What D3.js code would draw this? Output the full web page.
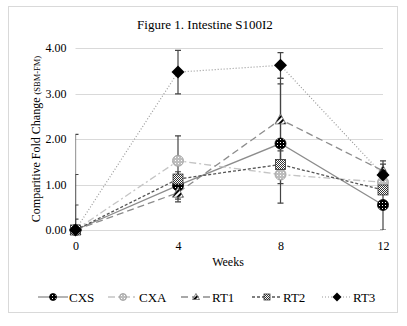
<!DOCTYPE html>
<html>
<head>
<meta charset="utf-8">
<script src="https://cdn.jsdelivr.net/npm/d3@7"></script>
<style>
  body { margin: 0; background: #fff; }
</style>
</head>
<body>
<div class="canvas"></div>
<script>
// weeks on the x axis
const weeks = [0, 4, 8, 12]
const yTicks = [0, 1, 2, 3, 4]
const seriesNames = ["CXS", "CXA", "RT1", "RT2", "RT3"]

// fold change per group, one value per week
const cxs = [0, 0.98, 1.90, 0.55]
const cxa = [0, 1.52, 1.22, 1.05]
const rt1 = [0, 0.82, 2.43, 1.30]
const rt2 = [0, 1.12, 1.44, 0.88]
const rt3 = [0, 3.47, 3.62, 1.21]

// error bar half-widths
const cxsErr = [0.24, 0.30, 1.31, 0.55]
const cxaErr = [0.55, 0.55, 0.20, 0.10]
const rt1Err = [1.22, 0.20, 0.90, 0.15]
const rt2Err = [2.10, 0.10, 0.30, 0.10]
const rt3Err = [0, 0.48, 0.28, 0.31]

const FONT = 'Liberation Serif'
const dims = { width: 407, height: 326 }
const margin = { left: 75.5, right: 24, top: 48, bottom: 96 }

const svg = d3.select('.canvas').append('svg')
  .attr('width', dims.width)
  .attr('height', dims.height)

// chart frame
svg.append('rect')
  .attr('x', 8.5).attr('y', 6.5)
  .attr('width', 389).attr('height', 306)
  .attr('fill', '#fff').attr('stroke', '#d9d9d9')

const defs = svg.append('defs')

// marker fills
const pDots = defs.append('pattern').attr('id', 'dotsDark')
  .attr('width', 3).attr('height', 3).attr('patternUnits', 'userSpaceOnUse')
pDots.append('rect').attr('width', 3).attr('height', 3).attr('fill', '#000')
pDots.append('rect').attr('x', 1).attr('y', 1).attr('width', 1).attr('height', 1).attr('fill', '#fff')

const pDotsLight = defs.append('pattern').attr('id', 'dotsLight')
  .attr('width', 3).attr('height', 3).attr('patternUnits', 'userSpaceOnUse')
pDotsLight.append('rect').attr('width', 3).attr('height', 3).attr('fill', '#bdbdbd')
pDotsLight.append('rect').attr('x', 1).attr('y', 1).attr('width', 1).attr('height', 1).attr('fill', '#fff')

const pStripe = defs.append('pattern').attr('id', 'stripes')
  .attr('width', 4).attr('height', 4).attr('patternUnits', 'userSpaceOnUse')
  .attr('patternTransform', 'rotate(45)')
pStripe.append('rect').attr('width', 4).attr('height', 4).attr('fill', '#fff')
pStripe.append('rect').attr('width', 2).attr('height', 4).attr('fill', '#000')

const pCheck = defs.append('pattern').attr('id', 'checks')
  .attr('width', 2).attr('height', 2).attr('patternUnits', 'userSpaceOnUse')
pCheck.append('rect').attr('width', 2).attr('height', 2).attr('fill', '#fff')
pCheck.append('rect').attr('width', 1).attr('height', 1).attr('fill', '#333')
pCheck.append('rect').attr('x', 1).attr('y', 1).attr('width', 1).attr('height', 1).attr('fill', '#333')

const x = d3.scaleLinear().domain([0, 12]).range([margin.left, dims.width - margin.right])
const y = d3.scaleLinear().domain([0, 4]).range([dims.height - margin.bottom, margin.top])

defs.append('clipPath').attr('id', 'plotClip').append('rect')
  .attr('x', x(0)).attr('y', y(4) - 10)
  .attr('width', x(12) - x(0) + 10).attr('height', y(0) - y(4) + 10)

// title
svg.append('text')
  .attr('x', 205).attr('y', 29)
  .attr('text-anchor', 'middle')
  .attr('font-family', FONT)
  .attr('font-size', 13)
  .attr('fill', '#000')
  .text('Figure 1. Intestine S100I2')

// gridlines
svg.append('g').selectAll('line').data(yTicks).enter().append('line')
  .attr('x1', x(0)).attr('x2', x(12))
  .attr('y1', d => Math.round(y(d)) + 0.5).attr('y2', d => Math.round(y(d)) + 0.5)
  .attr('stroke', '#d9d9d9').attr('stroke-width', 1)

// axes, labels only
const yAxis = svg.append('g')
  .attr('transform', `translate(${x(0) - 6},0)`)
  .call(d3.axisLeft(y).tickValues(yTicks).tickFormat(d3.format('.2f')).tickSize(0))
yAxis.attr('font-family', FONT).attr('font-size', 12)
yAxis.select('.domain').remove()
yAxis.selectAll('text').attr('fill', '#000')

const xAxis = svg.append('g')
  .attr('transform', `translate(0,${y(0) + 8})`)
  .call(d3.axisBottom(x).tickValues(weeks).tickSize(0))
xAxis.attr('font-family', FONT).attr('font-size', 12)
xAxis.select('.domain').remove()
xAxis.selectAll('text').attr('fill', '#000')

svg.append('text')
  .attr('x', 228).attr('y', 266)
  .attr('text-anchor', 'middle')
  .attr('font-family', FONT)
  .attr('font-size', 12)
  .attr('fill', '#000')
  .text('Weeks')

const yLabel = svg.append('text')
  .attr('transform', `translate(40,${(y(0) + y(4)) / 2}) rotate(-90)`)
  .attr('text-anchor', 'middle')
  .attr('font-family', FONT)
  .attr('font-size', 12)
  .attr('fill', '#000')
yLabel.append('tspan').text('Comparitive Fold Change ')
yLabel.append('tspan').attr('font-size', 8.5).text('(SBM-FM)')

// series styling
const styles = {
  CXS: { stroke: '#8c8c8c', dash: null, width: 1.3, marker: 'circle', fill: 'url(#dotsDark)', edge: '#000' },
  CXA: { stroke: '#c4c4c4', dash: '7,3,2,3', width: 1.3, marker: 'circle', fill: 'url(#dotsLight)', edge: '#9a9a9a' },
  RT1: { stroke: '#8c8c8c', dash: '7,4', width: 1.3, marker: 'triangle', fill: 'url(#stripes)', edge: '#666' },
  RT2: { stroke: '#555', dash: '3,2', width: 1.3, marker: 'square', fill: 'url(#checks)', edge: '#333' },
  RT3: { stroke: '#9a9a9a', dash: '1,2', width: 1.2, marker: 'diamond', fill: '#000', edge: '#000' }
}

const series = [
  { name: 'CXS', values: cxs, err: cxsErr },
  { name: 'CXA', values: cxa, err: cxaErr },
  { name: 'RT1', values: rt1, err: rt1Err },
  { name: 'RT2', values: rt2, err: rt2Err },
  { name: 'RT3', values: rt3, err: rt3Err }
]

const line = d3.line().x(d => x(d.week)).y(d => y(d.value))

// error bars
const errG = svg.append('g').attr('clip-path', 'url(#plotClip)')
series.forEach(s => {
  weeks.forEach((w, i) => {
    const e = s.err[i]
    if (!e) return
    const cx = x(w)
    const lo = y(s.values[i] - e)
    const hi = y(s.values[i] + e)
    errG.append('line').attr('x1', cx).attr('x2', cx).attr('y1', lo).attr('y2', hi)
      .attr('stroke', '#444').attr('stroke-width', 1.2)
    ;[lo, hi].forEach(yy => errG.append('line')
      .attr('x1', cx - 3).attr('x2', cx + 3).attr('y1', yy).attr('y2', yy)
      .attr('stroke', '#444').attr('stroke-width', 1.2))
  })
})

// lines
series.forEach(s => {
  const st = styles[s.name]
  svg.append('path')
    .datum(weeks.map((w, i) => ({ week: w, value: s.values[i] })))
    .attr('d', line)
    .attr('fill', 'none')
    .attr('stroke', st.stroke)
    .attr('stroke-width', st.width)
    .attr('stroke-dasharray', st.dash)
})

function drawMarker(g, kind, cx, cy, st, size) {
  const r = size / 2
  if (kind === 'circle') {
    g.append('circle').attr('cx', cx).attr('cy', cy).attr('r', r)
      .attr('fill', st.fill).attr('stroke', st.edge).attr('stroke-width', 0.8)
  } else if (kind === 'square') {
    g.append('rect').attr('x', cx - r + 0.5).attr('y', cy - r + 0.5)
      .attr('width', size - 1).attr('height', size - 1)
      .attr('fill', st.fill).attr('stroke', st.edge).attr('stroke-width', 0.8)
  } else if (kind === 'diamond') {
    g.append('path')
      .attr('d', `M${cx},${cy - r - 1}L${cx + r + 1},${cy}L${cx},${cy + r + 1}L${cx - r - 1},${cy}Z`)
      .attr('fill', st.fill)
  } else {
    g.append('path')
      .attr('d', `M${cx},${cy - r}L${cx + r},${cy + r - 1}L${cx - r},${cy + r - 1}Z`)
      .attr('fill', st.fill).attr('stroke', st.edge).attr('stroke-width', 0.8)
  }
}

// markers, drawn in series order so RT3 sits on top
series.forEach(s => {
  const st = styles[s.name]
  const g = svg.append('g')
  weeks.forEach((w, i) => drawMarker(g, st.marker, x(w), y(s.values[i]), st, 11))
})

// legend
const legendX = [38, 108, 181, 252, 322]
const legend = svg.append('g')
series.forEach((s, i) => {
  const st = styles[s.name]
  const lx = legendX[i]
  const ly = 297
  legend.append('line')
    .attr('x1', lx).attr('x2', lx + 30).attr('y1', ly).attr('y2', ly)
    .attr('stroke', st.stroke).attr('stroke-width', st.width)
    .attr('stroke-dasharray', st.dash)
  drawMarker(legend, st.marker, lx + 15, ly, st, 7)
  legend.append('text')
    .attr('x', lx + 31).attr('y', ly + 4.5)
    .attr('font-family', FONT)
    .attr('font-size', 13)
    .attr('fill', '#000')
    .text(s.name)
})
</script>
</body>
</html>
